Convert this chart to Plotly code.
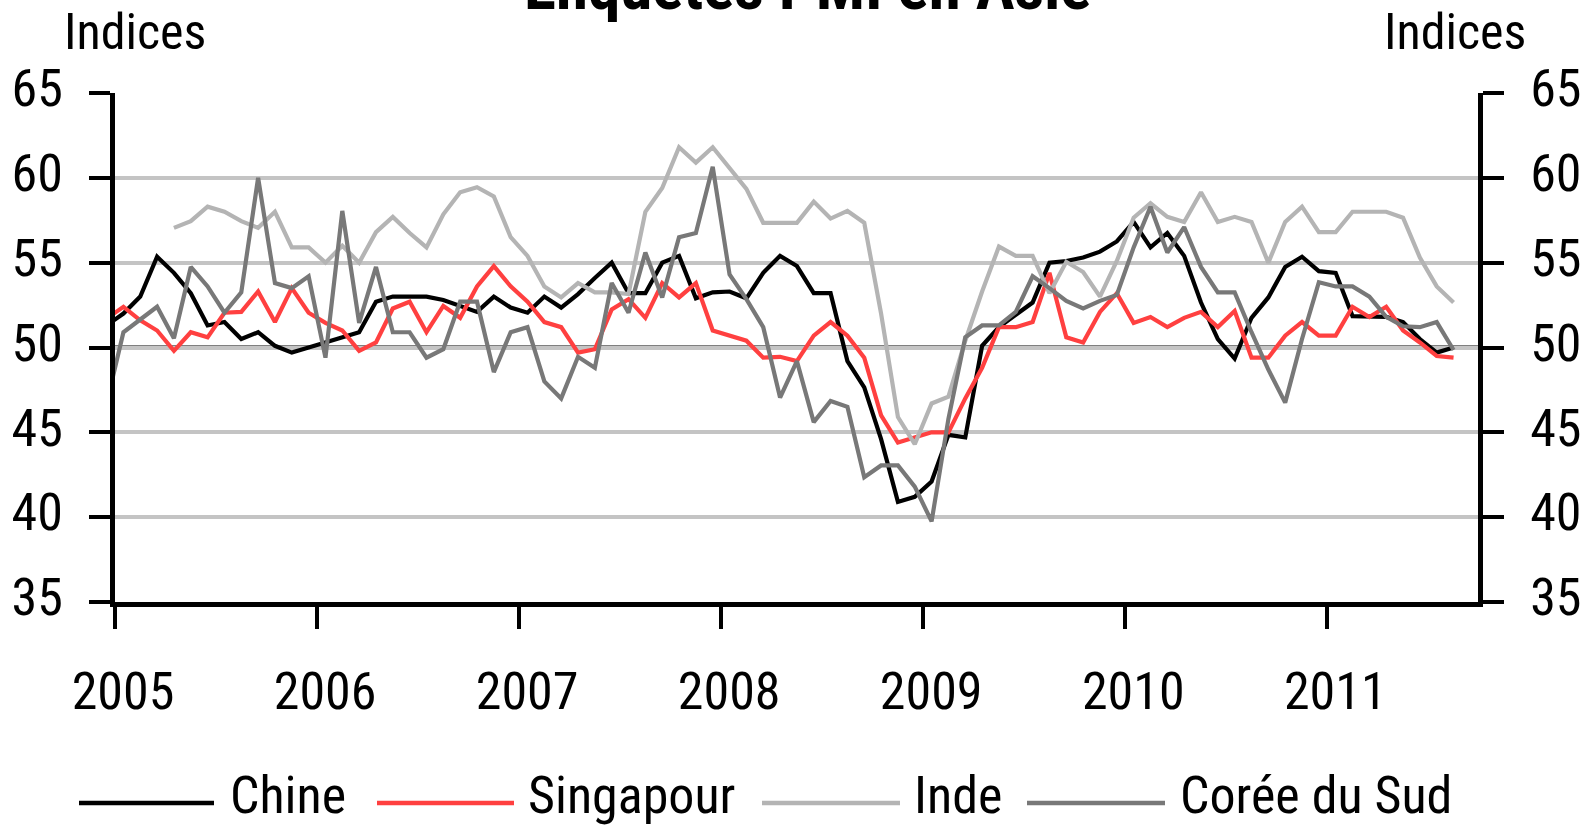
import plotly.graph_objects as go

# ---------------- data ----------------
all_months = [f"{y}-{m:02d}" for y in range(2004, 2012) for m in range(1, 13)]
months = all_months[all_months.index("2004-12"):all_months.index("2011-08") + 1]

years = ["2005", "2006", "2007", "2008", "2009", "2010", "2011"]
y_ticks = [35, 40, 45, 50, 55, 60, 65]

chine = [51.3,
         52.0, 53.0, 55.35, 54.4, 53.2, 51.3, 51.5, 50.5, 50.9, 50.1, 49.7, 50.0,
         50.3, 50.6, 50.9, 52.7, 53.0, 53.0, 53.0, 52.8, 52.45, 52.1, 53.0, 52.35,
         52.05, 53.0, 52.35, 53.15, 54.1, 55.0, 53.2, 53.2, 55.0, 55.4, 52.9, 53.25,
         53.3, 52.9, 54.4, 55.4, 54.8, 53.2, 53.2, 49.2, 47.65, 44.6, 40.9, 41.2,
         42.1, 44.85, 44.7, 50.1, 51.2, 51.95, 52.65, 55.0, 55.1, 55.3, 55.65, 56.25,
         57.4, 55.9, 56.75, 55.4, 52.65, 50.5, 49.35, 51.75, 52.95, 54.75, 55.35, 54.5,
         54.4, 51.85, 51.85, 51.8, 51.5, 50.5, 49.7, 50.0]

singapour = [51.7,
             52.4, 51.6, 51.0, 49.8, 50.9, 50.6, 52.05, 52.1, 53.3, 51.5, 53.5, 52.05,
             51.45, 51.0, 49.8, 50.3, 52.3, 52.7, 50.9, 52.45, 51.75, 53.6, 54.8, 53.6,
             52.7, 51.5, 51.2, 49.7, 49.9, 52.25, 52.85, 51.75, 53.8, 52.95, 53.8, 51.0,
             50.7, 50.4, 49.4, 49.45, 49.2, 50.7, 51.5, 50.7, 49.4, 46.0, 44.4, 44.7,
             45.0, 45.0, 47.0, 48.8, 51.2, 51.2, 51.5, 54.4, 50.6, 50.3, 52.1, 53.2,
             51.45, 51.8, 51.2, 51.75, 52.1, 51.2, 52.15, 49.4, 49.4, 50.7, 51.5, 50.7,
             50.7, 52.4, 51.8, 52.4, 51.0, 50.3, 49.5, 49.4]

inde = [None,
        None, None, None, 57.05, 57.45, 58.3, 58.0, 57.45, 57.05, 58.0, 55.9, 55.9,
        55.0, 56.0, 55.0, 56.8, 57.7, 56.75, 55.9, 57.85, 59.15, 59.45, 58.9, 56.5,
        55.4, 53.6, 52.95, 53.8, 53.25, 53.25, 53.15, 58.0, 59.4, 61.8, 60.9, 61.8,
        60.55, 59.35, 57.35, 57.35, 57.35, 58.6, 57.6, 58.05, 57.35, 52.0, 45.9, 44.3,
        46.7, 47.1, 50.4, 53.3, 55.95, 55.4, 55.4, 53.2, 55.05, 54.45, 53.0, 55.1,
        57.65, 58.5, 57.7, 57.4, 59.15, 57.4, 57.7, 57.4, 55.0, 57.4, 58.3, 56.8,
        56.8, 58.0, 58.0, 58.0, 57.65, 55.3, 53.6, 52.65]

coree = [46.7,
         50.9, 51.65, 52.4, 50.55, 54.75, 53.6, 52.05, 53.25, 60.0, 53.8, 53.5, 54.2,
         49.4, 58.05, 51.45, 54.75, 50.9, 50.9, 49.4, 49.9, 52.7, 52.7, 48.55, 50.9,
         51.2, 48.0, 47.0, 49.45, 48.8, 53.8, 52.05, 55.6, 52.95, 56.5, 56.75, 60.65,
         54.3, 52.85, 51.2, 47.05, 49.2, 45.6, 46.85, 46.5, 42.35, 43.05, 43.05, 41.8,
         39.75, 45.8, 50.6, 51.3, 51.3, 52.1, 54.2, 53.5, 52.75, 52.3, 52.75, 53.1,
         55.9, 58.3, 55.6, 57.1, 54.75, 53.25, 53.25, 50.9, 48.7, 46.75, 50.5, 53.85,
         53.6, 53.6, 53.0, 51.8, 51.25, 51.2, 51.5, 49.85]

series_names = ["Chine", "Singapour", "Inde", "Corée du Sud"]
series_values = [chine, singapour, inde, coree]
series_colors = ["#000000", "#ff4040", "#b4b4b4", "#787878"]

# month -> position (mid-month, in fractional years)
x_pos = [int(s[:4]) + (int(s[5:]) - 0.5) / 12 for s in months]

# ---------------- layout geometry ----------------
W, H = 1586, 827
L, R, T, B = 115, 108, 93, 225
PW, PH = W - L - R, H - T - B


def xp(px):
    return (px - L) / PW


def yp(py):
    return (H - B - py) / PH


FONT = "Roboto Condensed, DejaVu Sans Condensed, Liberation Sans Narrow, Liberation Sans, sans-serif"

fig = go.Figure()
for i, (name, vals, col) in enumerate(zip(series_names, series_values, series_colors)):
    fig.add_trace(go.Scatter(
        x=x_pos, y=vals, name=name, mode="lines",
        line=dict(color=col, width=4.2),
        yaxis="y2" if i == 3 else "y",
        showlegend=False, hoverinfo="x+y+name",
    ))

axis_common = dict(
    range=[35, 65], tickvals=y_ticks, ticks="outside", ticklen=21, tickwidth=3.5,
    tickcolor="black", showline=True, linecolor="black", linewidth=4.5,
    zeroline=False, tickfont=dict(size=52, color="black", family=FONT),
    ticklabelstandoff=16, ticklabelshift=-5, automargin=False,
)

fig.update_layout(
    template="none",
    width=W, height=H,
    margin=dict(l=L, r=R, t=T, b=B, pad=0, autoexpand=False),
    paper_bgcolor="white", plot_bgcolor="white",
    font=dict(family=FONT, color="black"),
    xaxis=dict(
        range=[2005, 2011.746], tickvals=[int(y) for y in years], ticktext=years,
        ticks="outside", ticklen=22, tickwidth=3.5, tickcolor="black",
        showline=True, linecolor="black", linewidth=4.5, showgrid=False,
        zeroline=False, tickfont=dict(size=52, color="black", family=FONT),
        ticklabelshift=8, ticklabelstandoff=18, automargin=False,
    ),
    yaxis=dict(**axis_common, showgrid=True, gridcolor="#c4c4c4", gridwidth=3.5),
    yaxis2=dict(**axis_common, overlaying="y", side="right", showgrid=False),
    showlegend=False,
)

# reference line at 50
fig.add_shape(type="line", xref="paper", yref="y", x0=0, x1=1, y0=50, y1=50,
              line=dict(color="black", width=4), layer="between")

# axis titles
fig.add_annotation(text="Indices", xref="paper", yref="paper", x=xp(62), y=yp(32),
                   xanchor="left", yanchor="middle", showarrow=False,
                   font=dict(size=50, family=FONT, color="black"))
fig.add_annotation(text="Indices", xref="paper", yref="paper", x=xp(1528), y=yp(32),
                   xanchor="right", yanchor="middle", showarrow=False,
                   font=dict(size=50, family=FONT, color="black"))

# title (clipped at the top of the page as in the reference)
fig.add_annotation(text="<b>Enquêtes PMI en Asie</b>", xref="paper", yref="paper",
                   x=xp(807), y=yp(-13), xanchor="center", yanchor="middle",
                   showarrow=False, font=dict(size=65, family=FONT, color="black"))

# custom legend
legend_items = [(79, 214, 231), (377, 514, 529), (762, 900, 915), (1027, 1165, 1181)]
for (x0, x1, tx), name, col in zip(legend_items, series_names, series_colors):
    fig.add_shape(type="line", xref="paper", yref="paper", x0=xp(x0), x1=xp(x1),
                  y0=yp(803), y1=yp(803), line=dict(color=col, width=4.5))
    fig.add_annotation(text=name, xref="paper", yref="paper", x=xp(tx - 3), y=yp(795),
                       xanchor="left", yanchor="middle", showarrow=False,
                       font=dict(size=52, family=FONT, color="black"))

fig.write_html("out.html", config={"displayModeBar": False},
               post_script="document.body.style.margin='0px';document.body.style.overflow='hidden';")
